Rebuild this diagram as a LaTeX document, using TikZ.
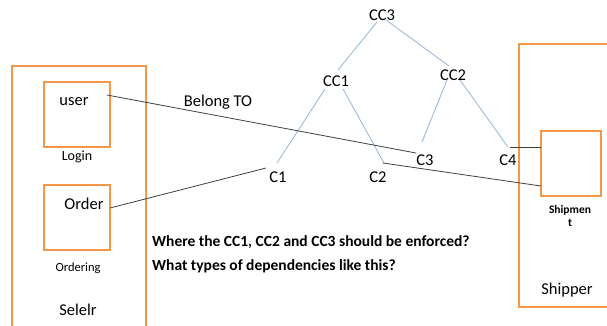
\documentclass[tikz,border=0pt]{standalone}
\usepackage{fontspec}
\setmainfont{Carlito}
\definecolor{boxorange}{HTML}{F79646}
\definecolor{treeblue}{HTML}{95B3D7}
\definecolor{linkgray}{HTML}{404040}
\begin{document}
\begin{tikzpicture}[x=1pt,y=-1pt,
  frame/.style={draw=boxorange,line width=2pt},
  lbl/.style={inner sep=1pt,font=\fontsize{16.5}{19}\selectfont},
  small/.style={inner sep=1pt,font=\fontsize{14}{16}\selectfont},
  tiny/.style={inner sep=1pt,font=\fontsize{12.5}{14}\selectfont},
  tree/.style={draw=treeblue,line width=0.8pt},
  link/.style={draw=linkgray,line width=0.8pt}]
\useasboundingbox (0,0) rectangle (607,325);
% seller and shipper containers (open at the page edges)
\draw[frame] (12,330) -- (12,66) -- (146,66) -- (146,330);
\draw[frame] (612,44) -- (519,44) -- (519,307) -- (612,307);
% inner component boxes
\draw[frame] (44,82) rectangle (110,147);
\draw[frame] (44,185) rectangle (110,250);
\draw[frame] (541,131) rectangle (601,196);
% texts inside the containers
\node[lbl] (user) at (74,102) {user};
\node[small] (login) at (77,157) {Login};
\node[lbl] (order) at (84,204) {Order};
\node[tiny] (ordering) at (78,268) {Ordering};
\node[lbl] (seller) at (78,310) {Selelr};
\node[inner sep=0pt,align=center,font=\fontsize{11.5}{13}\bfseries\selectfont] (shipment) at (570,216) {Shipmen\\t};
\node[lbl] (shipper) at (567,290) {Shipper};
% constraint tree
\node[lbl] (cc3) at (382,15) {CC3};
\node[lbl] (cc1) at (336,81) {CC1};
\node[lbl] (cc2) at (453,75) {CC2};
\node[lbl] (c1) at (278,177) {C1};
\node[lbl] (c2) at (378,177) {C2};
\node[lbl] (c3) at (425,160) {C3};
\node[lbl] (c4) at (508,160) {C4};
\coordinate (t1) at (377,22);
\coordinate (t2) at (338,70);
\coordinate (t3) at (386,20);
\coordinate (t4) at (449,66);
\coordinate (t5) at (325,89);
\coordinate (t6) at (277,163);
\coordinate (t7) at (343,89);
\coordinate (t8) at (384,163);
\coordinate (t9) at (447,80);
\coordinate (t10) at (422,142);
\coordinate (t11) at (460,80);
\coordinate (t12) at (508,147);
\draw[tree] (t1) -- (t2);
\draw[tree] (t3) -- (t4);
\draw[tree] (t5) -- (t6);
\draw[tree] (t7) -- (t8);
\draw[tree] (t9) -- (t10);
\draw[tree] (t11) -- (t12);
% links between components and constraints
\coordinate (u1) at (107,95);
\coordinate (u2) at (416,153);
\coordinate (o1) at (110,208);
\coordinate (o2) at (266,168);
\coordinate (s1) at (383,163);
\coordinate (s2) at (541,186);
\coordinate (k1) at (510,147);
\coordinate (k2) at (541,147);
\draw[link] (u1) -- (u2);
\draw[link] (o1) -- (o2);
\draw[link] (s1) -- (s2);
\draw[link] (k1) -- (k2);
\node[lbl] (belong) at (218,102) {Belong TO};
% question text
\node[anchor=west,inner sep=0pt,align=left,font=\fontsize{15.5}{24}\bfseries\selectfont] (question) at (152,254)
  {Where the CC1, CC2 and CC3 should be enforced?\\What types of dependencies like this?};
\end{tikzpicture}
\end{document}
